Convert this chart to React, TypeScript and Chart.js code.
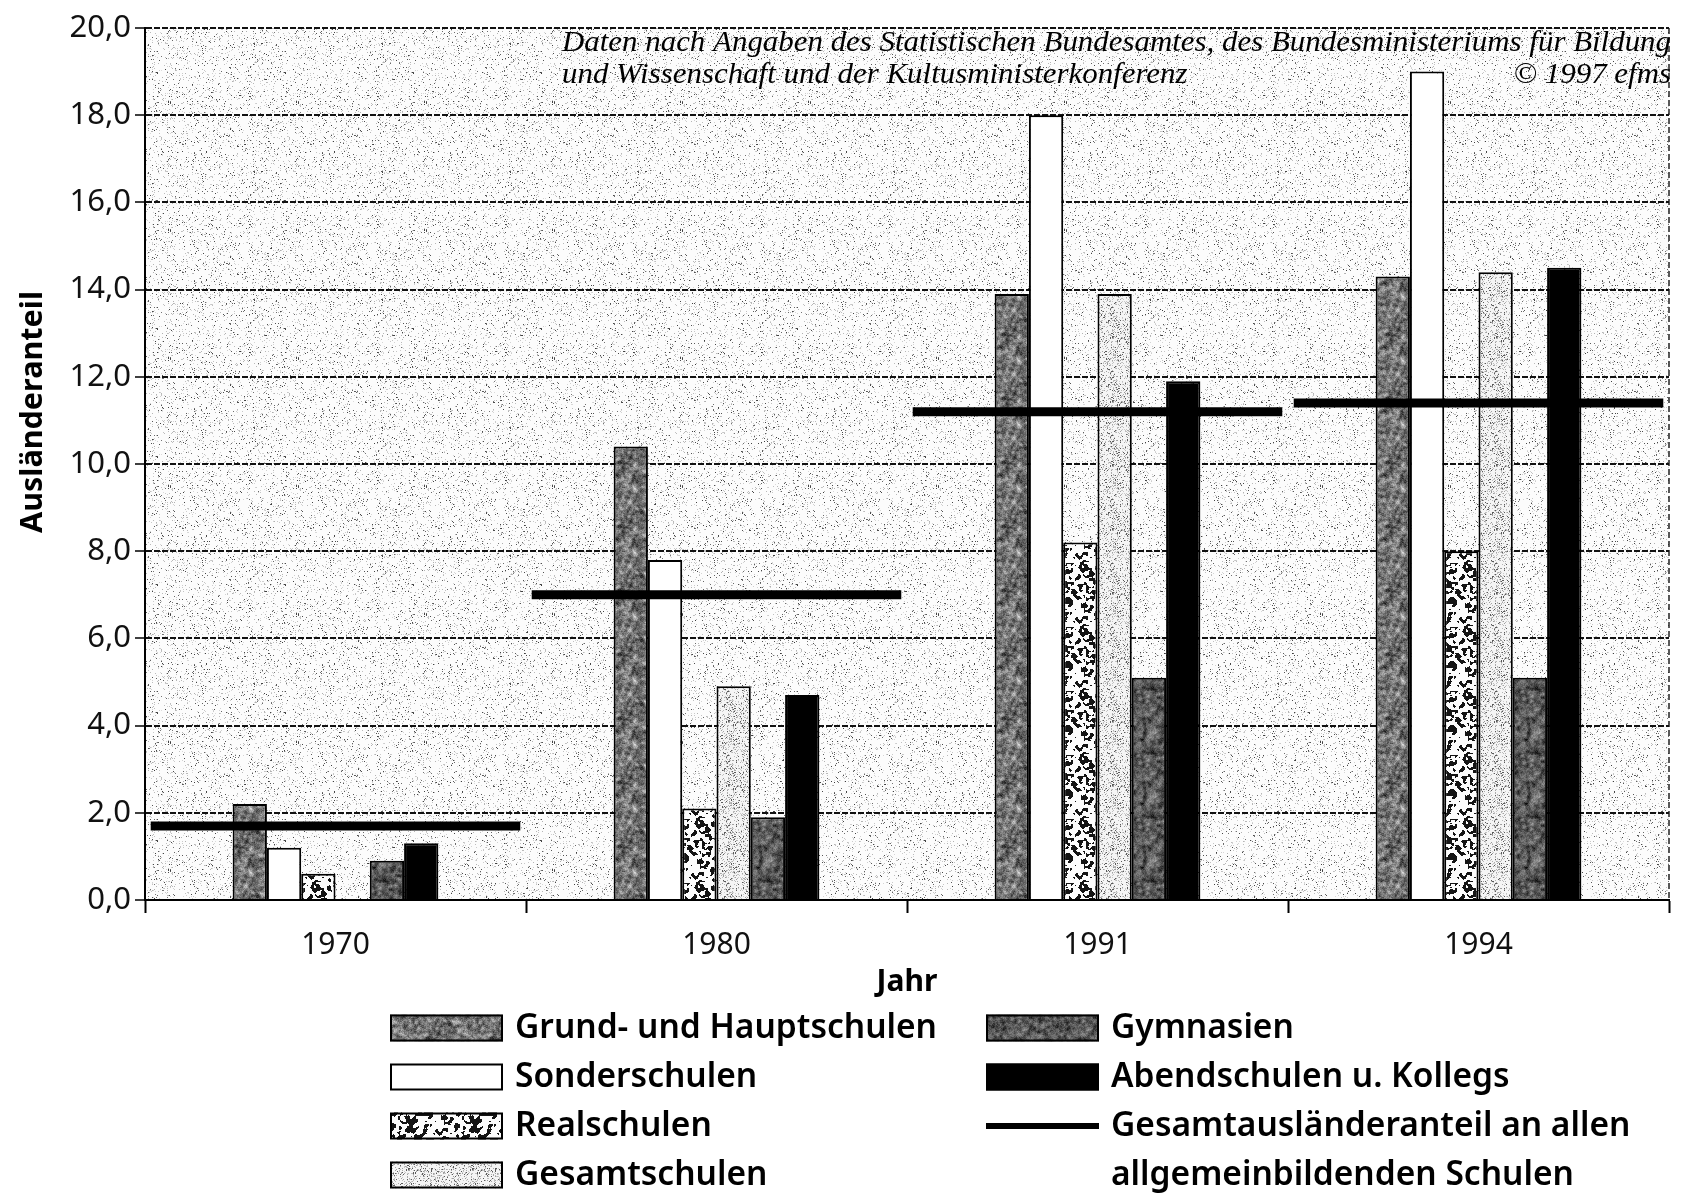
import React, { useEffect, useRef } from 'react';
import { Chart, registerables } from 'chart.js';

Chart.register(...registerables);

// ---------- data ----------
const years = ['1970', '1980', '1991', '1994'];
const seriesNames = [
  'Grund- und Hauptschulen',
  'Sonderschulen',
  'Realschulen',
  'Gesamtschulen',
  'Gymnasien',
  'Abendschulen u. Kollegs',
];
const grundHaupt = [2.2, 10.4, 13.9, 14.3];
const sonder = [1.2, 7.8, 18.0, 19.0];
const real = [0.6, 2.1, 8.2, 8.0];
const gesamt = [null, 4.9, 13.9, 14.4];
const gymnasien = [0.9, 1.9, 5.1, 5.1];
const abend = [1.3, 4.7, 11.9, 14.5];
const gesamtAnteil = [1.7, 7.0, 11.2, 11.4];
const lineLabel = ['Gesamtausländeranteil an allen', 'allgemeinbildenden Schulen'];
const yTickLabels = ['0,0', '2,0', '4,0', '6,0', '8,0', '10,0', '12,0', '14,0', '16,0', '18,0', '20,0'];
const yTitle = 'Ausländeranteil';
const xTitle = 'Jahr';
const sourceLines = [
  'Daten nach Angaben des Statistischen Bundesamtes, des Bundesministeriums für Bildung',
  'und Wissenschaft und der Kultusministerkonferenz',
];
const copyright = '© 1997 efms';

const FONT = '"Noto Sans", "DejaVu Sans", sans-serif';

// ---------- textures (style only) ----------
function rng(seed: number) {
  let s = seed >>> 0;
  return () => {
    s = (s * 1664525 + 1013904223) >>> 0;
    return s / 4294967296;
  };
}

function blurField(size: number, seed: number, r: number): Float32Array {
  const rnd = rng(seed);
  let a = new Float32Array(size * size);
  for (let i = 0; i < a.length; i++) a[i] = rnd();
  for (let pass = 0; pass < 2; pass++) {
    const b = new Float32Array(size * size);
    for (let y = 0; y < size; y++)
      for (let x = 0; x < size; x++) {
        let s = 0;
        for (let d = -r; d <= r; d++) s += a[y * size + ((x + d + size) % size)];
        b[y * size + x] = s / (2 * r + 1);
      }
    const c = new Float32Array(size * size);
    for (let y = 0; y < size; y++)
      for (let x = 0; x < size; x++) {
        let s = 0;
        for (let d = -r; d <= r; d++) s += b[((y + d + size) % size) * size + x];
        c[y * size + x] = s / (2 * r + 1);
      }
    a = c;
  }
  let mn = 1, mx = 0;
  for (let i = 0; i < a.length; i++) { mn = Math.min(mn, a[i]); mx = Math.max(mx, a[i]); }
  for (let i = 0; i < a.length; i++) a[i] = (a[i] - mn) / (mx - mn || 1);
  return a;
}

function texture(size: number, seed: number, shade: (f: number, r: () => number) => number) {
  const c = document.createElement('canvas');
  c.width = size;
  c.height = size;
  const g = c.getContext('2d')!;
  const img = g.createImageData(size, size);
  const f = blurField(size, seed, 1);
  const rnd = rng(seed * 7 + 3);
  for (let i = 0; i < size * size; i++) {
    const v = Math.max(0, Math.min(255, Math.round(shade(f[i], rnd))));
    img.data[i * 4] = v;
    img.data[i * 4 + 1] = v;
    img.data[i * 4 + 2] = v;
    img.data[i * 4 + 3] = 255;
  }
  g.putImageData(img, 0, 0);
  return c;
}

export default function App() {
  const ref = useRef<HTMLCanvasElement>(null);

  useEffect(() => {
    const canvas = ref.current!;
    const ctx = canvas.getContext('2d')!;
    const pat = (c: HTMLCanvasElement) => ctx.createPattern(c, 'repeat') as CanvasPattern;

    const bgPat = pat(texture(128, 11, (_f, r) => {
      const a = r();
      if (a < 0.035) return 60 + r() * 60;
      if (a < 0.11) return 175 + r() * 45;
      return 252;
    }));
    const grundPat = pat(texture(64, 21, (f, r) => 40 + 170 * f + (r() - 0.5) * 50));
    const sonderPat = '#ffffff';
    const realPat = pat(texture(64, 31, (f) => (f < 0.44 ? 20 : 252)));
    const gesamtPat = pat(texture(64, 41, (_f, r) => {
      const a = r();
      if (a < 0.06) return 90;
      if (a < 0.26) return 150 + r() * 60;
      return 245;
    }));
    const gymPat = pat(texture(64, 51, (f, r) => 20 + 130 * f + (r() - 0.5) * 40));
    const abendPat = '#000000';

    const fills = [grundPat, sonderPat, realPat, gesamtPat, gymPat, abendPat];
    const seriesData = [grundHaupt, sonder, real, gesamt, gymnasien, abend];

    const bgPlugin = {
      id: 'bgTexture',
      beforeDraw(chart: any) {
        const { ctx: c, chartArea: a } = chart;
        c.save();
        c.fillStyle = '#ffffff';
        c.fillRect(0, 0, chart.width, chart.height);
        c.fillStyle = bgPat;
        c.fillRect(a.left, a.top, a.right - a.left, a.bottom - a.top);
        c.strokeStyle = '#222';
        c.lineWidth = 1.5;
        c.setLineDash([6, 3]);
        c.beginPath();
        c.moveTo(a.right, a.top);
        c.lineTo(a.right, a.bottom);
        c.stroke();
        c.restore();
      },
    };

    const textPlugin = {
      id: 'texts',
      afterDraw(chart: any) {
        const c: CanvasRenderingContext2D = chart.ctx;
        c.save();
        c.fillStyle = '#000';

        // source annotation
        c.font = `italic 29px "Liberation Serif", "DejaVu Serif", serif`;
        c.textBaseline = 'middle';
        const w1 = c.measureText(sourceLines[0]).width;
        const sx = 1109 / w1;
        c.save();
        c.translate(562, 43);
        c.scale(sx, 1);
        c.textAlign = 'left';
        c.fillText(sourceLines[0], 0, 0);
        c.fillText(sourceLines[1], 0, 32);
        c.restore();
        c.save();
        c.translate(1671, 75);
        c.scale(sx, 1);
        c.textAlign = 'right';
        c.fillText(copyright, 0, 0);
        c.restore();

        // y-axis title
        c.font = `bold 31px ${FONT}`;
        const wy = c.measureText(yTitle).width;
        c.save();
        c.translate(33, 412);
        c.rotate(-Math.PI / 2);
        c.scale(242 / wy, 1);
        c.textAlign = 'center';
        c.fillText(yTitle, 0, 0);
        c.restore();

        // legend (two columns)
        c.font = `600 35px ${FONT}`;
        const lsx = 422 / c.measureText(seriesNames[0]).width;
        const rowY = (r: number) => 1028 + r * 49;
        const colX = [390, 986];
        const swW = 113, swH = 27;
        const drawLabel = (t: string, x: number, y: number) => {
          c.save();
          c.translate(x, y);
          c.scale(lsx, 1);
          c.textAlign = 'left';
          c.textBaseline = 'middle';
          c.fillText(t, 0, 0);
          c.restore();
        };
        seriesNames.forEach((name, i) => {
          const col = i < 4 ? 0 : 1;
          const row = i < 4 ? i : i - 4;
          const x = colX[col];
          const y = rowY(row);
          c.fillStyle = fills[i] as any;
          c.fillRect(x, y - swH / 2, swW, swH);
          c.strokeStyle = '#000';
          c.lineWidth = 2;
          c.strokeRect(x + 1, y - swH / 2 + 1, swW - 2, swH - 2);
          c.fillStyle = '#000';
          drawLabel(name, x + 125, y);
        });
        // line legend
        const ly = rowY(2);
        c.fillStyle = '#000';
        c.fillRect(colX[1], ly - 3, swW, 6);
        drawLabel(lineLabel[0], colX[1] + 125, ly);
        drawLabel(lineLabel[1], colX[1] + 125, rowY(3));
        c.restore();
      },
    };

    const segRadius = (c: any) => {
      const a = c.chart.chartArea;
      return a ? ((a.right - a.left) / years.length) * 0.485 : 10;
    };

    const chart = new Chart(canvas, {
      type: 'bar',
      data: {
        labels: years,
        datasets: [
          ...seriesNames.map((name, i) => ({
            type: 'bar' as const,
            label: name,
            data: seriesData[i] as any,
            backgroundColor: fills[i] as any,
            borderColor: '#000',
            borderWidth: 2,
            categoryPercentage: 0.54,
            barPercentage: 1,
            order: 1,
          })),
          {
            type: 'line' as const,
            label: lineLabel.join(' '),
            data: gesamtAnteil,
            showLine: false,
            pointStyle: 'line',
            pointRadius: segRadius,
            pointHoverRadius: segRadius,
            pointBorderWidth: 9,
            pointHoverBorderWidth: 9,
            pointBorderColor: '#000',
            pointBackgroundColor: '#000',
            order: 0,
          } as any,
        ],
      },
      options: {
        responsive: false,
        devicePixelRatio: 1,
        animation: false,
        events: [],
        layout: { padding: { top: 28, left: 0, right: 9, bottom: 184 } },
        plugins: {
          legend: { display: false },
          tooltip: { enabled: false },
          title: { display: false },
        },
        scales: {
          x: {
            offset: true,
            grid: {
              display: true,
              offset: true,
              drawOnChartArea: false,
              drawTicks: true,
              tickLength: 13,
              tickColor: '#000',
              tickWidth: 2,
            },
            border: { display: true, color: '#000', width: 2 },
            ticks: { color: '#111', font: { family: FONT, size: 30 }, padding: 14 },
            title: {
              display: true,
              text: xTitle,
              color: '#000',
              font: { family: FONT, size: 30, weight: 'bold' },
              padding: { top: 0, bottom: 10 },
            },
            afterFit: (s: any) => {
              s.height = 110;
            },
          },
          y: {
            min: 0,
            max: 20,
            ticks: {
              stepSize: 2,
              color: '#111',
              font: { family: FONT, size: 31 },
              padding: 4,
              callback: (v: any) => yTickLabels[Math.round(Number(v) / 2)] ?? String(v),
            },
            grid: {
              color: '#111',
              lineWidth: 2,
              tickLength: 10,
              tickColor: '#000',
              tickWidth: 1.5,
              tickBorderDash: [],
            },
            border: { display: true, color: '#000', width: 2, dash: [6, 2] },
            afterFit: (s: any) => {
              s.width = 145;
            },
          },
        },
      } as any,
      plugins: [bgPlugin, textPlugin],
    });

    return () => chart.destroy();
  }, []);

  return (
    <canvas
      ref={ref}
      width={1688}
      height={1194}
      style={{ position: 'fixed', left: 0, top: 0, display: 'block' }}
    />
  );
}
